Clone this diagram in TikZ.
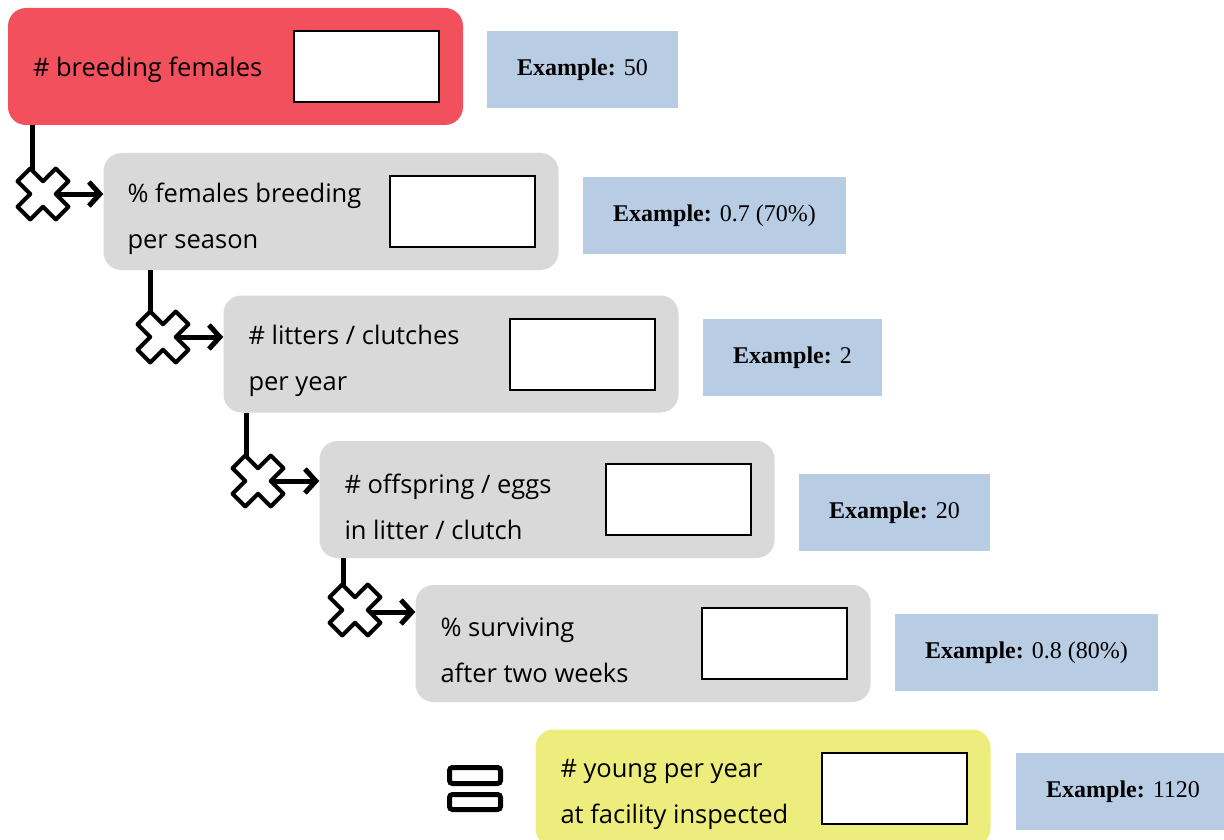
\documentclass[tikz,border=0pt]{standalone}
\usepackage{fontspec}
\setmainfont{Open Sans}
\newfontfamily\exfont{Liberation Serif}
\usetikzlibrary{arrows.meta}

\definecolor{startred}{HTML}{F2505D}
\definecolor{stagegray}{HTML}{D9D9D9}
\definecolor{examplebl}{HTML}{B8CCE4}
\definecolor{resultyel}{HTML}{EDED7D}

\newcommand{\crossmark}{
  % White cross with black outline
  \filldraw[fill=white, draw=black, line width=4pt, line join=round, rotate=45]
    (-9, -27) -- (9, -27) -- (9, -9) -- (27, -9) -- (27, 9) -- (9, 9) -- (9, 27)
    -- (-9, 27) -- (-9, 9) -- (-27, 9) -- (-27, -9) -- (-9, -9) -- cycle;
}

\tikzset{
  stage/.style={rounded corners=18pt, minimum width=455pt, minimum height=117pt, inner sep=0pt},
  entry/.style={draw=black, line width=2pt, fill=white, minimum width=145pt, minimum height=71pt, inner sep=0pt, anchor=east},
  stagetext/.style={anchor=west, align=left, inner sep=0pt, font=\fontsize{25.5}{46}\selectfont},
  example/.style={fill=examplebl, anchor=west, minimum height=77pt, inner xsep=30pt, font=\exfont\fontsize{24}{28}\selectfont},
  link/.style={line width=5pt},
  feed/.style={line width=5pt, -{Straight Barb[length=11pt, width=24pt, line width=5pt]}},
}

\begin{document}
\begin{tikzpicture}[x=1pt, y=-1pt]
    \useasboundingbox (0, 0) rectangle (1224, 840);

    % Stages
    \node[stage, fill=startred] (breed) at (235.5, 66.5) {};
    \node[stage, fill=stagegray] (season) at (331, 211.5) {};
    \node[stage, fill=stagegray] (litters) at (451, 354) {};
    \node[stage, fill=stagegray] (offspring) at (547, 499.5) {};
    \node[stage, fill=stagegray] (surviving) at (643, 643.5) {};
    \node[stage, fill=resultyel] (young) at (763, 788) {};

    % Stage texts
    \node[stagetext] (breedtxt) at ([xshift=25pt, yshift=-3pt]breed.west) {\# breeding females};
    \node[stagetext] (seasontxt) at ([xshift=24pt, yshift=-7pt]season.west) {\% females breeding\\per season};
    \node[stagetext] (litterstxt) at ([xshift=25pt, yshift=-7pt]litters.west) {\# litters / clutches\\per year};
    \node[stagetext] (offspringtxt) at ([xshift=25pt, yshift=-7pt]offspring.west) {\# offspring / eggs\\in litter / clutch};
    \node[stagetext] (survivingtxt) at ([xshift=25pt, yshift=-7pt]surviving.west) {\% surviving\\after two weeks};
    \node[stagetext] (youngtxt) at ([xshift=25pt, yshift=-6pt]young.west) {\# young per year\\at facility inspected};

    % Entry fields
    \node[entry] (breedin) at ([xshift=-23pt]breed.east) {};
    \node[entry] (seasonin) at ([xshift=-23pt]season.east) {};
    \node[entry] (littersin) at ([xshift=-23pt]litters.east) {};
    \node[entry] (offspringin) at ([xshift=-23pt]offspring.east) {};
    \node[entry] (survivingin) at ([xshift=-23pt]surviving.east) {};
    \node[entry] (youngin) at ([xshift=-23pt]young.east) {};

    % Examples
    \node[example] (breedex) at (487, 69.5) {\textbf{Example:} 50};
    \node[example] (seasonex) at (583, 215.5) {\textbf{Example:} 0.7 (70\%)};
    \node[example] (littersex) at (703, 357.5) {\textbf{Example:} 2};
    \node[example] (offspringex) at (799, 512.5) {\textbf{Example:} 20};
    \node[example] (survivingex) at (895, 652.5) {\textbf{Example:} 0.8 (80\%)};
    \node[example] (youngex) at (1016, 791.5) {\textbf{Example:} 1120};

    % Cross centres
    \coordinate (xbreed) at (43, 194);
    \coordinate (xseason) at (163, 337);
    \coordinate (xlitters) at (258, 481);
    \coordinate (xoffspring) at (355, 610);

    % Links
    \draw[link] ([xshift=25pt]breed.south west) -- ([xshift=25pt]breed.south west |- xbreed);
    \draw[link] ([xshift=47pt]season.south west) -- ([xshift=47pt]season.south west |- xseason);
    \draw[link] ([xshift=23pt]litters.south west) -- ([xshift=23pt]litters.south west |- xlitters);
    \draw[link] ([xshift=24pt]offspring.south west) -- ([xshift=24pt]offspring.south west |- xoffspring);
    \draw[feed] (xbreed) -- (xbreed -| season.west);
    \draw[feed] (xseason) -- (xseason -| litters.west);
    \draw[feed] (xlitters) -- (xlitters -| offspring.west);
    \draw[feed] ([yshift=-2pt]xoffspring) -- ([yshift=-2pt]xoffspring -| surviving.west);

    % Crosses
    \begin{scope}[shift={(xbreed)}]
      \crossmark
    \end{scope}
    \begin{scope}[shift={(xseason)}]
      \crossmark
    \end{scope}
    \begin{scope}[shift={(xlitters)}]
      \crossmark
    \end{scope}
    \begin{scope}[shift={(xoffspring)}]
      \crossmark
    \end{scope}

    % Equals sign
    \draw[line width=5pt, rounded corners=3pt, fill=white] (449.5, 767.5) rectangle (500.5, 783.5);
    \draw[line width=5pt, rounded corners=3pt, fill=white] (449.5, 794.5) rectangle (500.5, 809.5);
  \end{tikzpicture}
\end{document}
